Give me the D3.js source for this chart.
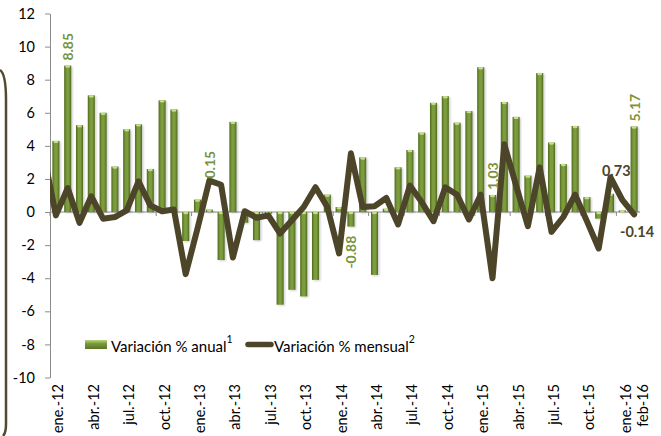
<!DOCTYPE html>
<html>
<head>
<meta charset="utf-8">
<title>variacion anual y mensual</title>
<script type="text/javascript" src="https://cdn.jsdelivr.net/npm/d3@7/dist/d3.min.js"></script>
<style>
    body{margin:0;background:#fff;}
    svg{display:block;font-family:Lato,"Open Sans",sans-serif;}
</style>
</head>
<body>
<div id="chart"></div>
<script type="text/javascript">
// meses (eje x)
var meses = ["ene.-12","feb.-12","mar.-12","abr.-12","may.-12","jun.-12","jul.-12","ago.-12","sep.-12","oct.-12","nov.-12","dic.-12",
             "ene.-13","feb.-13","mar.-13","abr.-13","may.-13","jun.-13","jul.-13","ago.-13","sep.-13","oct.-13","nov.-13","dic.-13",
             "ene.-14","feb.-14","mar.-14","abr.-14","may.-14","jun.-14","jul.-14","ago.-14","sep.-14","oct.-14","nov.-14","dic.-14",
             "ene.-15","feb.-15","mar.-15","abr.-15","may.-15","jun.-15","jul.-15","ago.-15","sep.-15","oct.-15","nov.-15","dic.-15",
             "ene.-16","feb-16"]
// etiquetas visibles del eje x
var etiquetasX = ["ene.-12","abr.-12","jul.-12","oct.-12","ene.-13","abr.-13","jul.-13","oct.-13",
                  "ene.-14","abr.-14","jul.-14","oct.-14","ene.-15","abr.-15","jul.-15","oct.-15","ene.-16","feb-16"]
var ticksY = [-10,-8,-6,-4,-2,0,2,4,6,8,10,12]

// variacion % anual (barras)
var anual = [4.3, 8.85, 5.25, 7.05, 6.0, 2.75, 5.0, 5.3, 2.6, 6.75, 6.2, -1.75,
             0.75, 0.15, -2.9, 5.45, -0.65, -1.7, -0.1, -5.6, -4.7, -5.1, -4.1, 1.05,
             0.3, -0.88, 3.3, -3.8, 0.2, 2.7, 3.75, 4.8, 6.6, 7.0, 5.4, 6.1,
             8.75, 1.03, 6.65, 5.75, 2.2, 8.4, 4.2, 2.9, 5.2, 0.9, -0.4, 1.1,
             0.1, 5.17]
// variacion % mensual (linea)
var mensual = [-0.2, 1.45, -0.65, 0.95, -0.4, -0.3, 0.1, 1.85, 0.4, 0.05, 0.15, -3.75,
               -1.0, 1.9, 1.65, -2.75, 0.05, -0.35, -0.2, -1.3, -0.5, 0.3, 1.5, 0.3,
               -2.5, 3.55, 0.3, 0.35, 0.85, -0.75, 1.6, 0.6, -0.55, 1.5, 1.05, -0.45,
               1.05, -4.0, 4.1, 1.6, -0.85, 2.7, -1.2, -0.3, 1.05, -0.55, -2.2, 2.1,
               0.73, -0.14]
var mensualPrevio = 3.35   // dic.-11, queda cortado por el borde del grafico

// etiquetas de datos
var etiquetasAnual = ["feb.-12","feb.-13","feb.-14","feb.-15","feb-16"]

var width = 661, height = 436
var svg = d3.select("#chart").append("svg").attr("width",width).attr("height",height)

var defs = svg.append("defs")
var grad = defs.append("linearGradient").attr("id","barra").attr("x1","0").attr("x2","1").attr("y1","0").attr("y2","0")
grad.append("stop").attr("offset","0%").attr("stop-color","#4f6a1e")
grad.append("stop").attr("offset","35%").attr("stop-color","#7c9c3d")
grad.append("stop").attr("offset","65%").attr("stop-color","#7c9c3d")
grad.append("stop").attr("offset","100%").attr("stop-color","#4f6a1e")
var gradLeg = defs.append("linearGradient").attr("id","leyenda").attr("x1","0").attr("x2","0").attr("y1","0").attr("y2","1")
gradLeg.append("stop").attr("offset","0%").attr("stop-color","#b9d680")
gradLeg.append("stop").attr("offset","40%").attr("stop-color","#7a9a3c")
gradLeg.append("stop").attr("offset","100%").attr("stop-color","#5a7526")
defs.append("filter").attr("id","sombra").append("feGaussianBlur").attr("stdDeviation",0.8)
defs.append("clipPath").attr("id","recorte").append("rect").attr("x",50).attr("y",0).attr("width",width-50).attr("height",height)

var x = d3.scaleBand().domain(meses).range([50,640]).paddingInner(0.4).paddingOuter(0.2)
var y = d3.scaleLinear().domain([-10,12]).range([377.5,13.5])
var step = x.step()
function cx(d){ return x(d)+x.bandwidth()/2 }

// marco exterior (borde izquierdo redondeado)
svg.append("path")
    .attr("d","M0,70 Q6,74 6,100 L6,424 Q6,433 3,436")
    .attr("fill","none").attr("stroke","#4f4a30").attr("stroke-width",2.5)

// eje y
var ejeY = svg.append("g").attr("transform","translate(50,0)")
    .call(d3.axisLeft(y).tickValues(ticksY).tickSize(5).tickPadding(10).tickSizeOuter(0)
        .tickFormat(function(d){return String(d)}))
ejeY.select(".domain").attr("stroke","#8c8c8c")
ejeY.selectAll(".tick line").attr("stroke","#8c8c8c")
ejeY.selectAll(".tick text").attr("font-size",14.5).attr("fill","#000").attr("font-family","Lato")

// eje x (linea en cero con marcas cada 3 meses)
svg.append("line").attr("x1",50).attr("x2",640).attr("y1",y(0)).attr("y2",y(0))
    .attr("stroke","#8c8c8c").attr("stroke-width",1)
svg.selectAll(".marca").data(meses.filter(function(d,i){return i%3==0}))
    .enter().append("line").attr("class","marca")
    .attr("x1",function(d){return x(d)-step*x.paddingInner()/2})
    .attr("x2",function(d){return x(d)-step*x.paddingInner()/2})
    .attr("y1",y(0)).attr("y2",y(0)+4)
    .attr("stroke","#8c8c8c")

svg.selectAll(".etqx").data(etiquetasX)
    .enter().append("text").attr("class","etqx")
    .attr("transform",function(d){
        var dx = 2
        if(d=="ene.-16") dx = 3
        if(d=="feb-16") dx = 8
        return "translate("+(cx(d)+dx)+",384) rotate(-90)"
    })
    .attr("text-anchor","end").attr("dominant-baseline","central")
    .attr("font-size",14.5).attr("fill","#000")
    .text(function(d){return d})

// barras
var datosBarras = meses.map(function(m,i){return {mes:m,v:anual[i]}})
svg.selectAll(".sombra").data(datosBarras)
    .enter().append("rect").attr("class","sombra")
    .attr("x",function(d){return x(d.mes)+1.5})
    .attr("y",function(d){return y(Math.max(0,d.v))+1})
    .attr("width",x.bandwidth())
    .attr("height",function(d){return Math.abs(y(d.v)-y(0))})
    .attr("fill","#000").attr("opacity",0.18).attr("filter","url(#sombra)")
svg.selectAll(".barra").data(datosBarras)
    .enter().append("rect").attr("class","barra")
    .attr("x",function(d){return x(d.mes)})
    .attr("y",function(d){return y(Math.max(0,d.v))})
    .attr("width",x.bandwidth())
    .attr("height",function(d){return Math.abs(y(d.v)-y(0))})
    .attr("fill","url(#barra)")
svg.selectAll(".tapa").data(datosBarras)
    .enter().append("ellipse").attr("class","tapa")
    .attr("cx",function(d){return cx(d.mes)})
    .attr("cy",function(d){return y(Math.max(0,d.v))+1})
    .attr("rx",x.bandwidth()/2-1).attr("ry",1.2)
    .attr("fill","#c3de8c")

// linea mensual
var puntos = [[cx(meses[0])-step, y(mensualPrevio)]].concat(meses.map(function(m,i){return [cx(m), y(mensual[i])]}))
svg.append("path")
    .attr("d", d3.line()(puntos))
    .attr("clip-path","url(#recorte)")
    .attr("fill","none").attr("stroke","#4d4529").attr("stroke-width",6)
    .attr("stroke-linejoin","round").attr("stroke-linecap","round")

// etiquetas de barras
svg.selectAll(".etqa").data(etiquetasAnual)
    .enter().append("text").attr("class","etqa")
    .attr("transform",function(d){
        var v = anual[meses.indexOf(d)]
        var yy = v>=0 ? y(v)-5 : y(v)+42
        if(d=="feb.-13") yy = y(v)-31
        return "translate("+cx(d)+","+yy+") rotate(-90)"
    })
    .attr("text-anchor","start").attr("dominant-baseline","central")
    .attr("font-size",14).attr("font-weight","bold").attr("fill","#77933c")
    .text(function(d){return anual[meses.indexOf(d)].toFixed(2)})

// etiquetas de la linea
svg.append("text")
    .attr("x",cx("ene.-16")-6).attr("y",y(0.73)-24)
    .attr("text-anchor","middle").attr("font-size",14.5).attr("font-weight","bold").attr("fill","#4d4529")
    .text(mensual[meses.indexOf("ene.-16")].toFixed(2))
svg.append("text")
    .attr("x",cx("feb-16")+3).attr("y",y(-0.14)+23)
    .attr("text-anchor","middle").attr("font-size",14.5).attr("font-weight","bold").attr("fill","#4d4529")
    .text(mensual[meses.indexOf("feb-16")].toFixed(2))

// leyenda
var ley = svg.append("g")
ley.append("rect").attr("x",85).attr("y",340).attr("width",22).attr("height",9).attr("fill","url(#leyenda)")
var t1 = ley.append("text").attr("x",111).attr("y",352).attr("font-size",15).attr("fill","#000")
t1.append("tspan").text("Variación % anual")
t1.append("tspan").attr("dy",-9).attr("font-size",10.5).text("1")
ley.append("line").attr("x1",248).attr("x2",271).attr("y1",344.5).attr("y2",344.5)
    .attr("stroke","#4d4529").attr("stroke-width",5.5).attr("stroke-linecap","round")
var t2 = ley.append("text").attr("x",274).attr("y",352).attr("font-size",15).attr("fill","#000")
t2.append("tspan").text("Variación % mensual")
t2.append("tspan").attr("dy",-9).attr("font-size",10.5).text("2")
</script>
</body>
</html>
